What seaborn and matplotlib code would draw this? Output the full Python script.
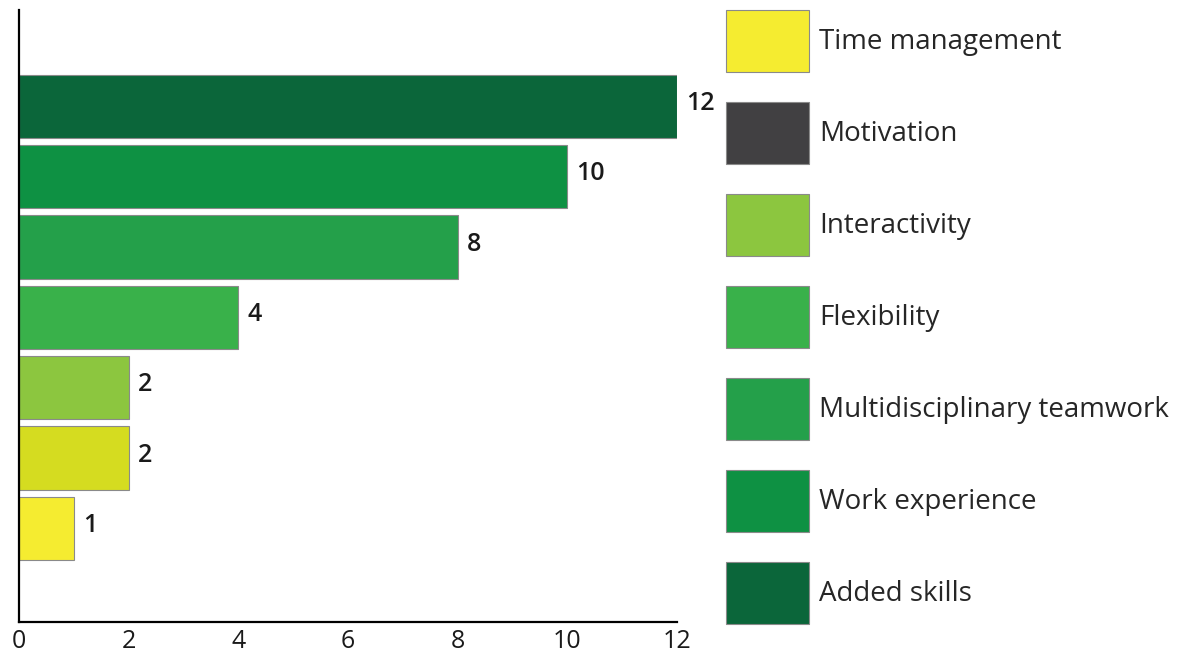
import pandas as pd
import seaborn as sns
import matplotlib.pyplot as plt
from matplotlib.patches import Patch
from matplotlib.legend_handler import HandlerPatch

# bars, top to bottom
bar_labels = ["Added skills", "Work experience", "Multidisciplinary teamwork",
              "Flexibility", "Interactivity", "Motivation", "Time management"]
bar_values = [12, 10, 8, 4, 2, 2, 1]
bar_colors = ["#0b663a", "#0e9143", "#24a04a", "#39b14a", "#8cc63f", "#d5dc20", "#f5ec30"]

# legend, top to bottom
legend_labels = ["Time management", "Motivation", "Interactivity", "Flexibility",
                 "Multidisciplinary teamwork", "Work experience", "Added skills"]
legend_colors = ["#f5ec30", "#414042", "#8cc63f", "#39b14a", "#24a04a", "#0e9143", "#0b663a"]

x_ticks = [0, 2, 4, 6, 8, 10, 12]


def main():
    sns.set_style("white")
    plt.rcParams["font.family"] = ["Open Sans", "DejaVu Sans"]

    df = pd.DataFrame({"item": bar_labels, "count": bar_values})

    fig = plt.figure(figsize=(11.81, 6.62), dpi=100)
    ax = fig.add_axes([0.0161, 0.0604, 0.5571, 0.9245])

    sns.barplot(data=df, y="item", x="count", hue="item", palette=bar_colors,
                saturation=1, orient="h", width=0.9, legend=False, ax=ax,
                edgecolor="#8a8a8a", linewidth=0.8)

    for i, v in enumerate(bar_values):
        ax.text(v + 0.17, i - 0.04, str(v), va="center", ha="left",
                fontsize=18, fontweight="semibold", color="#1a1a1a")

    ax.set_xlim(0, 12)
    ax.set_ylim(len(bar_labels) - 1 + 1.33, -1.37)
    ax.set_xticks(x_ticks)
    ax.set_xticklabels([str(t) for t in x_ticks], fontsize=18, color="#1a1a1a")
    ax.set_yticks([i - 0.5 for i in range(len(bar_labels) + 1)])
    ax.set_yticklabels([])
    ax.set_xlabel("")
    ax.set_ylabel("")

    ax.tick_params(axis="x", direction="in", length=9, width=1.5, pad=5, color="black")
    ax.tick_params(axis="y", direction="out", length=2.5, width=1.2, color="black")
    for side in ["top", "right"]:
        ax.spines[side].set_visible(False)
    for side in ["left", "bottom"]:
        ax.spines[side].set_color("black")
        ax.spines[side].set_linewidth(1.6)

    handles = [Patch(facecolor=c, edgecolor="#8a8a8a", linewidth=0.8) for c in legend_colors]
    fig.legend(handles, legend_labels, loc="upper left",
               bbox_to_anchor=(726 / 1181, 1 - 10 / 662), frameon=False,
               fontsize=20, handlelength=2.99, handleheight=3.06,
               labelspacing=1.08, handletextpad=0.36, borderpad=0, borderaxespad=0,
               handler_map={Patch: HandlerPatch()})

    plt.savefig("out.png", dpi=100)
    plt.close()


if __name__ == "__main__":
    main()
